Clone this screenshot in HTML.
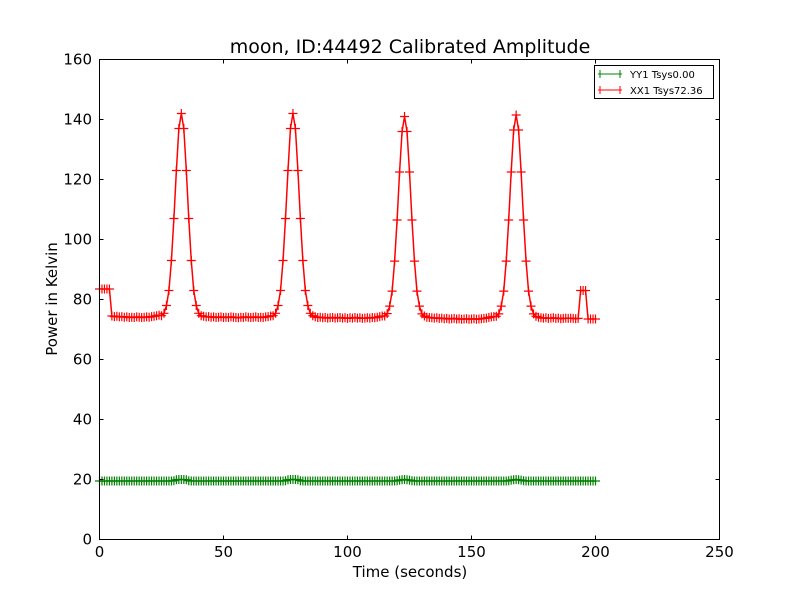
<!DOCTYPE html>
<html><head><meta charset="utf-8"><style>
body{margin:0;background:#fff;}
svg{display:block;font-family:"DejaVu Sans","Liberation Sans",sans-serif;}
</style></head><body>
<svg id="chart" width="800" height="600" viewBox="0 0 800 600" xmlns="http://www.w3.org/2000/svg">
<rect width="800" height="600" fill="#fff"/>
<text x="410" y="53" font-size="19" text-anchor="middle">moon, ID:44492 Calibrated Amplitude</text>
<g id="marks"></g>
<rect x="99.5" y="59.5" width="620" height="480" fill="none" stroke="#000" stroke-width="1"/>
<g id="axes"></g>
<text x="410" y="577" font-size="15" text-anchor="middle">Time (seconds)</text>
<text transform="translate(57,299) rotate(-90)" font-size="15" text-anchor="middle">Power in Kelvin</text>
<g>
<rect x="594.5" y="65.5" width="119" height="33" fill="#fff" stroke="#000" stroke-width="1"/>
<g>
<line x1="598" y1="74" x2="622" y2="74" stroke="green"/><line x1="600" y1="70" x2="600" y2="78" stroke="green"/><line x1="620" y1="70" x2="620" y2="78" stroke="green"/>
<text x="630" y="78" font-size="10">YY1 Tsys0.00</text></g>
<g>
<line x1="598" y1="90" x2="622" y2="90" stroke="red"/><line x1="600" y1="86" x2="600" y2="94" stroke="red"/><line x1="620" y1="86" x2="620" y2="94" stroke="red"/>
<text x="630" y="94" font-size="10">XX1 Tsys72.36</text></g>
</g>
</svg>
<script>
const xTicks=[0,50,100,150,200,250];
const yTicks=[0,20,40,60,80,100,120,140,160];
const times=[0,1,2,3,4,5,6,7,8,9,10,11,12,13,14,15,16,17,18,19,20,21,22,23,24,25,26,27,28,29,30,31,32,33,34,35,36,37,38,39,40,41,42,43,44,45,46,47,48,49,50,51,52,53,54,55,56,57,58,59,60,61,62,63,64,65,66,67,68,69,70,71,72,73,74,75,76,77,78,79,80,81,82,83,84,85,86,87,88,89,90,91,92,93,94,95,96,97,98,99,100,101,102,103,104,105,106,107,108,109,110,111,112,113,114,115,116,117,118,119,120,121,122,123,124,125,126,127,128,129,130,131,132,133,134,135,136,137,138,139,140,141,142,143,144,145,146,147,148,149,150,151,152,153,154,155,156,157,158,159,160,161,162,163,164,165,166,167,168,169,170,171,172,173,174,175,176,177,178,179,180,181,182,183,184,185,186,187,188,189,190,191,192,193,194,195,196,197,198,199,200];
const xx1=[83.5,83.5,83.5,83.5,83.5,
74.5,74.3,74.4,74.2,74.3,74.1,74.2,74.0,74.1,74.0,
74.2,74.1,74.0,74.1,74.2,74.1,74.3,74.4,74.6,74.8,
74.6,75.4,78,83,93,107,123,137,142,137,123,107,93,83,78,75.4,74.6,
74.4,74.2,74.3,74.1,74.2,74.0,74.1,74.2,74.0,74.1,
74.0,74.2,74.1,74.0,73.9,74.1,74.0,74.2,74.1,74.0,
74.1,74.2,74.0,74.1,74.0,74.2,74.3,74.5,
74.6,75.4,78,83,93,107,123,137,142,137,123,107,93,83,78,75.4,74.6,
74.2,74.0,74.1,73.9,74.0,73.8,73.9,74.0,73.8,73.9,
74.0,73.8,73.9,73.7,73.9,73.8,74.0,73.8,73.9,73.7,
73.8,73.9,73.8,74.0,73.9,74.1,74.3,74.5,
74.5,75.3,77.8,82.8,92.8,106.5,122.5,136,141,136,122.5,106.5,92.8,82.8,77.8,75.2,74.5,
74.1,74.0,73.9,73.8,73.9,73.7,73.8,73.6,73.7,73.5,
73.6,73.7,73.5,73.6,73.4,73.5,73.6,73.4,73.5,73.6,
73.4,73.5,73.6,73.7,73.8,74.0,74.2,74.3,
74.4,75.2,77.8,82.8,92.8,106.5,122.5,136.5,141.5,136.5,122.5,106.5,92.8,82.8,77.8,75.2,74.4,
74.1,73.9,73.8,73.9,73.7,73.8,73.9,73.7,73.8,73.6,
73.7,73.8,73.7,73.8,73.7,73.6,73.7,
83,83,83,
73.5,73.5,73.5,73.5];
const yy1=[19.5,19.5,19.5,19.5,19.5,19.5,19.5,19.5,19.5,19.5,
19.5,19.5,19.5,19.5,19.5,19.5,19.5,19.5,19.5,19.5,
19.5,19.5,19.5,19.5,19.5,19.5,19.5,19.5,19.5,19.5,
19.6,19.9,20,20,20,19.9,19.6,
19.5,19.5,19.5,19.5,19.5,19.5,19.5,19.5,19.5,19.5,
19.5,19.5,19.5,19.5,19.5,19.5,19.5,19.5,19.5,19.5,
19.5,19.5,19.5,19.5,19.5,19.5,19.5,19.5,19.5,19.5,
19.5,19.5,19.5,19.5,19.5,19.5,19.5,19.5,
19.6,19.9,20,20,20,19.9,19.6,
19.5,19.5,19.5,19.5,19.5,19.5,19.5,19.5,19.5,19.5,
19.5,19.5,19.5,19.5,19.5,19.5,19.5,19.5,19.5,19.5,
19.5,19.5,19.5,19.5,19.5,19.5,19.5,19.5,19.5,19.5,
19.5,19.5,19.5,19.5,19.5,19.5,19.5,19.5,
19.6,19.8,19.9,20,19.9,19.8,19.6,
19.5,19.5,19.5,19.5,19.5,19.5,19.5,19.5,19.5,19.5,
19.5,19.5,19.5,19.5,19.5,19.5,19.5,19.5,19.5,19.5,
19.5,19.5,19.5,19.5,19.5,19.5,19.5,19.5,19.5,19.5,
19.5,19.5,19.5,19.5,19.5,19.5,19.5,19.5,
19.6,19.8,19.9,20,19.9,19.8,19.6,
19.5,19.5,19.5,19.5,19.5,19.5,19.5,19.5,19.5,19.5,
19.5,19.5,19.5,19.5,19.5,19.5,19.5,19.5,19.5,19.5,
19.5,19.5,19.5,19.5,19.5,19.5,19.5,19.5,19.5];

const X0=99.5,X1=719.5,Y0=539.5,Y1=59.5;
function sx(v){return X0+(v-0)/(250-0)*(X1-X0);}
function sy(v){return Y0-(v-0)/(160-0)*(Y0-Y1);}
const NS="http://www.w3.org/2000/svg";
const marks=document.getElementById('marks');
const axes=document.getElementById('axes');

function drawSeries(vals,color,name){
  const g=document.createElementNS(NS,'g');
  
  
  let d='';
  vals.forEach((v,i)=>{d+=(i?'L':'M')+sx(times[i]).toFixed(2)+' '+sy(v).toFixed(2);});
  const p=document.createElementNS(NS,'path');
  
  
  p.setAttribute('d',d);p.setAttribute('fill','none');p.setAttribute('stroke',color);p.setAttribute('stroke-width','1.5');
  g.appendChild(p);
  let md='';
  vals.forEach((v,i)=>{const x=sx(times[i]),y=sy(v);md+=`M${(x-4.5).toFixed(2)} ${y.toFixed(2)}h9M${x.toFixed(2)} ${(y-4.5).toFixed(2)}v9`;});
  const m=document.createElementNS(NS,'path');
  
  
  m.setAttribute('d',md);m.setAttribute('fill','none');m.setAttribute('stroke',color);m.setAttribute('stroke-width','1.2');
  g.appendChild(m);
  marks.appendChild(g);
}
drawSeries(yy1,'green','series-yy1');
drawSeries(xx1,'red','series-xx1');

xTicks.forEach(t=>{
  const x=sx(t);
  const l=document.createElementNS(NS,'path');
  
  
  l.setAttribute('d',`M${x} ${Y0}v-4M${x} ${Y1}v4`);l.setAttribute('stroke','#000');
  axes.appendChild(l);
  const tx=document.createElementNS(NS,'text');
  
  
  tx.setAttribute('x',x);tx.setAttribute('y',557);tx.setAttribute('font-size','15');tx.setAttribute('text-anchor','middle');
  tx.textContent=t;axes.appendChild(tx);
});
yTicks.forEach(t=>{
  const y=sy(t);
  const l=document.createElementNS(NS,'path');
  
  
  l.setAttribute('d',`M${X0} ${y}h4M${X1} ${y}h-4`);l.setAttribute('stroke','#000');
  axes.appendChild(l);
  const tx=document.createElementNS(NS,'text');
  
  
  tx.setAttribute('x',92);tx.setAttribute('y',y+5);tx.setAttribute('font-size','15');tx.setAttribute('text-anchor','end');
  tx.textContent=t;axes.appendChild(tx);
});
</script>
</body></html>
